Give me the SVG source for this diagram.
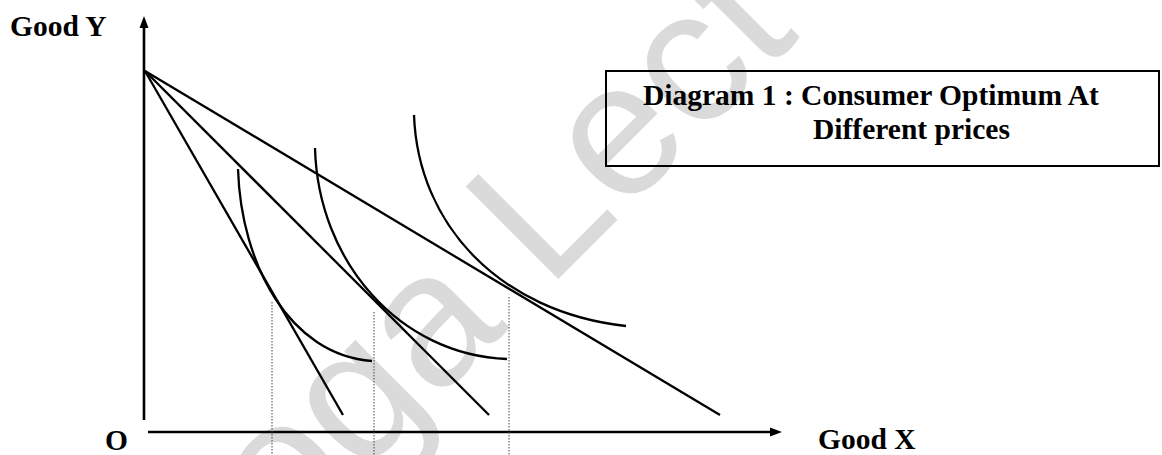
<svg xmlns="http://www.w3.org/2000/svg" width="1162" height="455" viewBox="0 0 1162 455">
  <style>
    .lbl { font-family: "Liberation Serif", "Times New Roman", serif; font-weight: bold; font-size: 29.5px; fill: #000; }
    .wm { font-family: "Liberation Sans", Arial, sans-serif; font-size: 190px; fill: #dadada; }
    .ax { stroke: #000; stroke-width: 2.6; fill: none; }
    .ln { stroke: #000; stroke-width: 2.3; fill: none; stroke-linecap: butt; }
    .dot { stroke: #444; stroke-width: 1; stroke-dasharray: 1.5 1.5; fill: none; }
  </style>
  <rect width="1162" height="455" fill="#fff"/>
  <g id="watermark">
    <text class="wm" x="-188" y="592" transform="rotate(-45)">oga Lect</text>
  </g>
  <g id="axes">
    <line class="ax" x1="144" y1="420" x2="144" y2="26"/>
    <polygon points="144,16 139.5,28 148.5,28" fill="#000"/>
    <line class="ax" x1="148" y1="432" x2="772" y2="432"/>
    <polygon points="782,432 770,427.5 770,436.5" fill="#000"/>
  </g>
  <g id="guides">
    <line class="dot" x1="272" y1="302" x2="272" y2="455"/>
    <line class="dot" x1="374" y1="312" x2="374" y2="455"/>
    <line class="dot" x1="509" y1="297" x2="509" y2="455"/>
  </g>
  <g id="connectors">
    <line id="budget1" class="ln" x1="145" y1="71" x2="343" y2="415"/>
    <line id="budget2" class="ln" x1="145" y1="71" x2="489" y2="415"/>
    <line id="budget3" class="ln" x1="145" y1="71" x2="720" y2="415"/>
  </g>
  <g id="curves">
    <path id="ic1" class="ln" d="M238,169 C241,265 290,355 372,361"/>
    <path id="ic2" class="ln" d="M315,148 C318,262 400,355 507,359"/>
    <path id="ic3" class="ln" d="M414,115 C418,225 500,312 626,326"/>
  </g>
  <g id="labels">
    <text class="lbl" x="10" y="36">Good Y</text>
    <text class="lbl" x="818" y="449">Good X</text>
    <text class="lbl" x="105" y="450">O</text>
  </g>
  <g id="title">
    <rect x="606" y="71" width="553" height="95" fill="none" stroke="#000" stroke-width="2"/>
    <text class="lbl" x="643" y="105">Diagram 1 : Consumer Optimum At</text>
    <text class="lbl" x="813" y="139">Different prices</text>
  </g>
</svg>
